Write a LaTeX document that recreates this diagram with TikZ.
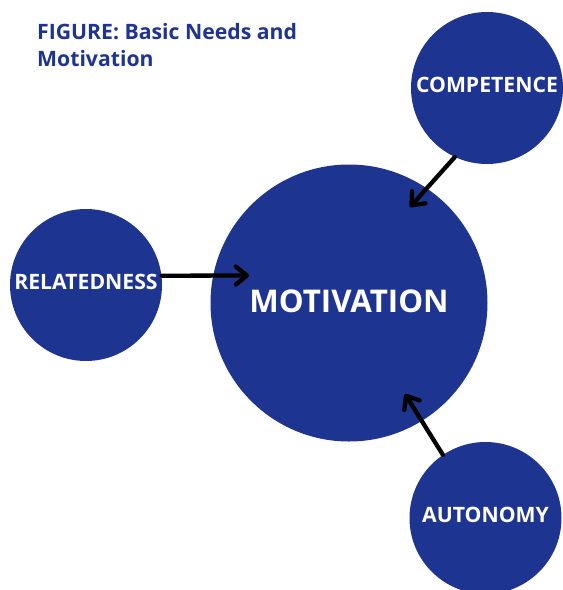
\documentclass[tikz,border=0pt]{standalone}
\usepackage{fontspec}
\setmainfont{Open Sans}
\usetikzlibrary{arrows.meta}
\definecolor{needblue}{RGB}{30,52,145}
\begin{document}
\begin{tikzpicture}[x=1pt,y=-1pt,
  need/.style={circle,fill=needblue,inner sep=0pt,text=white,text depth=7pt,
    font=\bfseries\fontsize{21.2}{24}\selectfont},
  feed/.style={line width=4.3pt,line cap=round,
    -{Straight Barb[length=11pt,width=18pt,line cap=round,line join=round]}}]
  \useasboundingbox (0,0) rectangle (563,590);
  % heading
  \node[anchor=base west,align=left,inner sep=0pt,text=needblue,
    font=\bfseries\fontsize{21.2}{27.5}\selectfont]
    (title) at (37,66.5) {FIGURE: Basic Needs and\\Motivation};
  % circles
  \node[need,minimum size=277pt,text depth=4pt,font=\bfseries\fontsize{31.3}{36}\selectfont]
    (mot) at (349,303) {MOTIVATION};
  \node[need,minimum size=152pt] (comp) at (487,88) {COMPETENCE};
  \node[need,minimum size=152pt] (rel) at (86,285) {RELATEDNESS};
  \node[need,minimum size=152pt] (aut) at (485.5,518) {AUTONOMY};
  % arrow tips inside the central circle
  \coordinate (tipC) at (410,207);
  \coordinate (tipR) at (249,275.5);
  \coordinate (tipA) at (405,394);
  \draw[feed] (comp.245) -- (tipC);
  \draw[feed] (rel.7) -- (tipR);
  \draw[feed] (aut.124) -- (tipA);
\end{tikzpicture}
\end{document}
